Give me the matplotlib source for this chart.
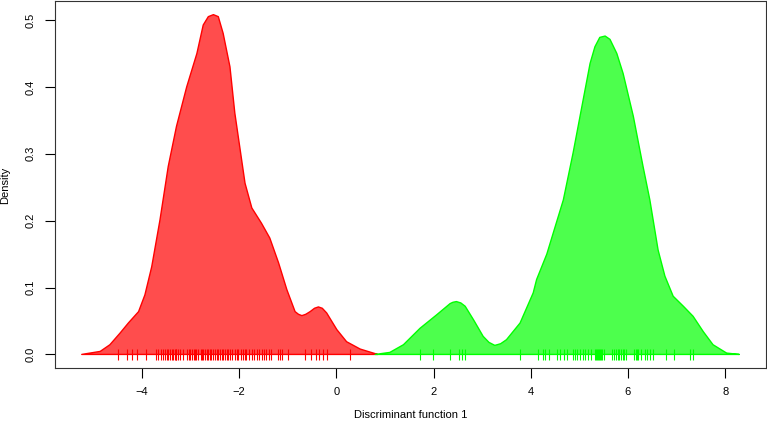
import matplotlib.pyplot as plt

plt.rcParams['font.family'] = ['Liberation Sans', 'DejaVu Sans']

# density curve of group 1 (red)
red_x = [-5.24, -4.86, -4.66, -4.45, -4.28, -4.07, -3.94, -3.80, -3.63, -3.46,
         -3.29, -3.08, -2.87, -2.74, -2.635, -2.53, -2.43, -2.33, -2.26, -2.19,
         -2.09, -1.98, -1.88, -1.74, -1.54, -1.37, -1.19, -1.02, -0.85, -0.78,
         -0.71, -0.63, -0.54, -0.45, -0.37, -0.29, -0.20, 0.01, 0.21, 0.49,
         0.76, 0.85]
red_y = [0.0, 0.0045, 0.0145, 0.032, 0.047, 0.064, 0.089, 0.131, 0.201, 0.281,
         0.341, 0.400, 0.450, 0.4925, 0.505, 0.508, 0.505, 0.480, 0.455, 0.430,
         0.361, 0.306, 0.256, 0.219, 0.196, 0.174, 0.137, 0.097, 0.064, 0.060,
         0.058, 0.060, 0.064, 0.069, 0.071, 0.069, 0.062, 0.037, 0.019, 0.008,
         0.002, 0.0]

# density curve of group 2 (green)
green_x = [0.80, 1.10, 1.38, 1.72, 2.06, 2.34, 2.40, 2.47, 2.56, 2.65,
           2.82, 3.02, 3.14, 3.26, 3.38, 3.50, 3.78, 4.05, 4.12, 4.33,
           4.46, 4.67, 4.87, 5.05, 5.22, 5.32, 5.42, 5.53, 5.63, 5.77,
           5.90, 6.11, 6.31, 6.45, 6.62, 6.76, 6.93, 7.14, 7.34, 7.55,
           7.75, 8.03, 8.29]
green_y = [0.0, 0.003, 0.0145, 0.039, 0.059, 0.076, 0.078, 0.079, 0.077, 0.072,
           0.052, 0.027, 0.018, 0.0135, 0.016, 0.022, 0.047, 0.092, 0.112, 0.150,
           0.181, 0.231, 0.301, 0.370, 0.435, 0.460, 0.474, 0.476, 0.471, 0.450,
           0.420, 0.356, 0.281, 0.231, 0.156, 0.117, 0.087, 0.072, 0.057, 0.034,
           0.0145, 0.002, 0.0]

# rug positions (individual scores)
red_rug = [-4.49, -4.30, -4.21, -4.11, -3.92, -3.72, -3.68, -3.60, -3.56, -3.53,
           -3.49, -3.46, -3.42, -3.39, -3.36, -3.33, -3.31, -3.29, -3.25, -3.22,
           -3.15, -3.07, -3.04, -3.01, -2.98, -2.94, -2.91, -2.88, -2.84, -2.79,
           -2.77, -2.74, -2.70, -2.67, -2.64, -2.60, -2.57, -2.53, -2.50, -2.46,
           -2.43, -2.40, -2.36, -2.33, -2.29, -2.26, -2.22, -2.19, -2.14, -2.09,
           -2.05, -2.02, -1.97, -1.93, -1.89, -1.85, -1.79, -1.74, -1.70, -1.64,
           -1.59, -1.54, -1.49, -1.44, -1.39, -1.35, -1.21, -1.16, -1.11, -0.99,
           -0.65, -0.52, -0.42, -0.36, -0.27, -0.20, 0.28]
green_rug = [1.73, 1.99, 2.33, 2.53, 2.58, 2.65, 3.78, 4.15, 4.26, 4.29,
             4.38, 4.53, 4.60, 4.68, 4.74, 4.86, 4.90, 4.96, 5.01, 5.07,
             5.11, 5.17, 5.23, 5.32, 5.34, 5.36, 5.38, 5.40, 5.42, 5.44,
             5.47, 5.51, 5.68, 5.72, 5.75, 5.79, 5.82, 5.86, 5.89, 5.92,
             5.96, 6.12, 6.16, 6.18, 6.21, 6.27, 6.34, 6.40, 6.45, 6.52,
             6.79, 6.95, 7.28, 7.33]

fig = plt.figure(figsize=(7.67, 4.23), dpi=100)
ax = fig.add_axes([55 / 767, 55 / 423, 711 / 767, 367 / 423])

ax.fill(red_x, red_y, facecolor='#ff4d4d', edgecolor='#ff0000', linewidth=1,
        joinstyle='round')
ax.fill(green_x, green_y, facecolor='#4dff4d', edgecolor='#00ff00', linewidth=1,
        joinstyle='round')

ax.vlines(red_rug, -0.008, 0.0085, color='#ff0000', linewidth=0.8)
ax.vlines(green_rug, -0.008, 0.0085, color='#00ff00', linewidth=0.8)

ax.set_xlim(-5.79, 8.84)
ax.set_ylim(-0.0203, 0.5284)
ax.set_xticks([-4, -2, 0, 2, 4, 6, 8])
ax.set_yticks([0.0, 0.1, 0.2, 0.3, 0.4, 0.5])
ax.set_yticklabels(['0.0', '0.1', '0.2', '0.3', '0.4', '0.5'], rotation=90, va='center')
ax.tick_params(length=7, width=0.8, labelsize=8, pad=7)

for s in ax.spines.values():
    s.set_linewidth(0.8)
    s.set_color('#333333')

fig.text(0.5 * (55 + 766) / 767, 8 / 423, 'Discriminant function 1',
         ha='center', va='center', fontsize=8)
fig.text(5 / 767, (423 - 185) / 423, 'Density', rotation=90,
         ha='center', va='center', fontsize=8)

fig.savefig('out.png', dpi=100)
